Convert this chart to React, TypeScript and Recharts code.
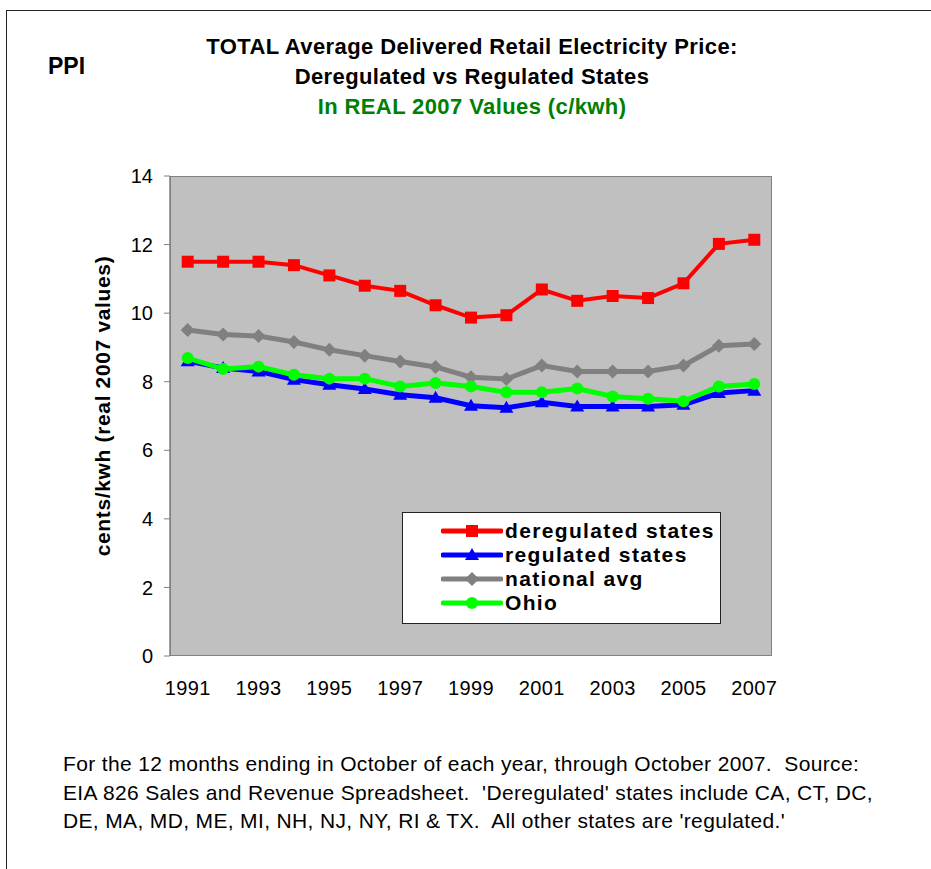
import { LineChart, Line, XAxis, YAxis } from "recharts";

const years = [
  "1991", "1992", "1993", "1994", "1995", "1996", "1997", "1998", "1999",
  "2000", "2001", "2002", "2003", "2004", "2005", "2006", "2007"
];
const deregulated = [11.5, 11.5, 11.5, 11.4, 11.1, 10.8, 10.65, 10.23, 9.87, 9.94, 10.69, 10.36, 10.5, 10.44, 10.87, 12.02, 12.14];
const regulated = [8.6, 8.4, 8.3, 8.06, 7.91, 7.79, 7.62, 7.53, 7.3, 7.24, 7.4, 7.28, 7.28, 7.28, 7.33, 7.67, 7.74];
const nationalAvg = [9.51, 9.38, 9.33, 9.16, 8.93, 8.76, 8.59, 8.43, 8.13, 8.08, 8.47, 8.3, 8.3, 8.3, 8.47, 9.05, 9.1];
const ohio = [8.69, 8.37, 8.44, 8.2, 8.09, 8.09, 7.86, 7.96, 7.86, 7.69, 7.69, 7.8, 7.57, 7.5, 7.43, 7.86, 7.93];
const yTicks = [0, 2, 4, 6, 8, 10, 12, 14];

const titleLines = [
  "TOTAL Average Delivered Retail Electricity Price:",
  "Deregulated vs Regulated States"
];
const subtitle = "In REAL 2007 Values (c/kwh)";
const footnote = [
  "For the 12 months ending in October of each year, through October 2007.  Source:",
  "EIA 826 Sales and Revenue Spreadsheet.  'Deregulated' states include CA, CT, DC,",
  "DE, MA, MD, ME, MI, NH, NJ, NY, RI & TX.  All other states are 'regulated.'"
];

const chartData = years.map((y, i) => ({
  year: y,
  deregulated: deregulated[i],
  regulated: regulated[i],
  national: nationalAvg[i],
  ohio: ohio[i]
}));

const FONT = "'Liberation Sans', Arial, sans-serif";

type Shape = "square" | "triangle" | "diamond" | "circle";

function Marker({ cx, cy, shape, color }: { cx: number; cy: number; shape: Shape; color: string }) {
  if (cx == null || cy == null) return null;
  if (shape === "square") return <rect x={cx - 6} y={cy - 6} width={12} height={12} fill={color} />;
  if (shape === "triangle")
    return <polygon points={`${cx},${cy - 7} ${cx + 7},${cy + 5} ${cx - 7},${cy + 5}`} fill={color} />;
  if (shape === "diamond")
    return <polygon points={`${cx},${cy - 7} ${cx + 7},${cy} ${cx},${cy + 7} ${cx - 7},${cy}`} fill={color} />;
  return <circle cx={cx} cy={cy} r={6} fill={color} />;
}

const series = [
  { key: "deregulated", name: "deregulated states", color: "#FF0000", shape: "square" as Shape, width: 4 },
  { key: "regulated", name: "regulated states", color: "#0000FF", shape: "triangle" as Shape, width: 5 },
  { key: "national", name: "national avg", color: "#808080", shape: "diamond" as Shape, width: 5 },
  { key: "ohio", name: "Ohio", color: "#00FF00", shape: "circle" as Shape, width: 5 }
];

export default function App() {
  return (
    <div style={{ position: "absolute", left: 0, top: 0, width: 931, height: 869, overflow: "hidden", background: "#fff", fontFamily: FONT }}>
      {/* outer frame */}
      <div style={{ position: "absolute", left: 6, top: 10, width: 960, height: 900, borderTop: "1px solid #222", borderLeft: "1.5px solid #222" }} />

      <div style={{ position: "absolute", left: 48, top: 53, fontSize: 23, fontWeight: "bold" }}>PPI</div>

      <div style={{ position: "absolute", left: 172, width: 600, top: 32, textAlign: "center", fontSize: 22, fontWeight: "bold", lineHeight: "30px", letterSpacing: 0.4 }}>
        {titleLines.map((t) => (
          <div key={t}>{t}</div>
        ))}
        <div style={{ color: "#008000" }}>{subtitle}</div>
      </div>

      {/* plot area background */}
      <div style={{ position: "absolute", left: 170, top: 176, width: 602, height: 480, boxSizing: "border-box", background: "#C0C0C0", border: "1px solid #808080" }} />

      <div
        style={{
          position: "absolute", left: 103, top: 406, transform: "translate(-50%, -50%) rotate(-90deg)",
          whiteSpace: "nowrap", fontSize: 21, fontWeight: "bold", letterSpacing: 0.65
        }}
      >
        cents/kwh (real 2007 values)
      </div>

      <LineChart
        width={931}
        height={869}
        data={chartData}
        margin={{ top: 176, right: 159, bottom: 183, left: 110 }}
        style={{ position: "absolute", left: 0, top: 0 }}
      >
        <XAxis
          dataKey="year"
          interval={1}
          padding={{ left: 17.7, right: 17.7 }}
          axisLine={false}
          tickLine={false}
          tickSize={6}
          tickMargin={19}
          height={30}
          tick={{ fontSize: 20, fill: "#000", fontFamily: FONT, letterSpacing: 0.4 }}
        />
        <YAxis
          domain={[0, 14]}
          ticks={yTicks}
          width={60}
          axisLine={{ stroke: "#808080", strokeWidth: 1.5 }}
          tickLine={{ stroke: "#808080" }}
          tickSize={6}
          tickMargin={11}
          tick={{ fontSize: 20, fill: "#000", fontFamily: FONT }}
        />
        {series.map((s) => (
          <Line
            key={s.key}
            dataKey={s.key}
            name={s.name}
            stroke={s.color}
            strokeWidth={s.width}
            isAnimationActive={false}
            dot={(p: any) => <Marker key={`${s.key}-${p.index}`} cx={p.cx} cy={p.cy} shape={s.shape} color={s.color} />}
          />
        ))}
      </LineChart>

      {/* legend */}
      <div style={{ position: "absolute", left: 402, top: 512, width: 319, height: 112, boxSizing: "border-box", background: "#fff", border: "1px solid #222", paddingTop: 6 }}>
        {series.map((s) => (
          <div key={s.key} style={{ display: "flex", alignItems: "center", height: 24 }}>
            <svg width={62} height={20} style={{ marginLeft: 38 }}>
              <line x1={2} y1={10} x2={60} y2={10} stroke={s.color} strokeWidth={5} strokeLinecap="round" />
              <Marker cx={31} cy={10} shape={s.shape} color={s.color} />
            </svg>
            <span style={{ fontSize: 21, fontWeight: "bold", letterSpacing: 1.35, marginLeft: 2 }}>{s.name}</span>
          </div>
        ))}
      </div>

      <div style={{ position: "absolute", left: 63, top: 750, fontSize: 21, lineHeight: "28.5px", letterSpacing: 0.35, whiteSpace: "nowrap" }}>
        {footnote.map((t) => (
          <div key={t} style={{ whiteSpace: "pre" }}>{t}</div>
        ))}
      </div>
    </div>
  );
}
